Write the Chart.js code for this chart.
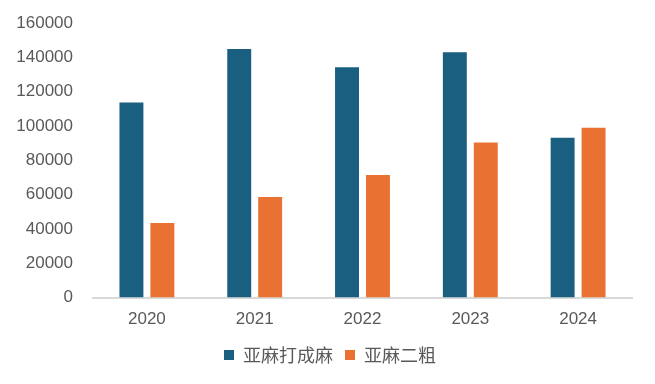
<!DOCTYPE html>
<html>
<head>
<meta charset="utf-8">
<script src="https://cdn.jsdelivr.net/npm/chart.js@4.4.1/dist/chart.umd.min.js"></script>
<style>
  html, body { margin: 0; padding: 0; background: #fff; }
  #wrap { width: 655px; height: 384px; }
</style>
</head>
<body>
<div id="wrap"><canvas id="chart" width="655" height="384"></canvas></div>
<script>
// 数据
const years = ["2020", "2021", "2022", "2023", "2024"];
const daChengMa = [113700, 144800, 134200, 143000, 93200];   // 亚麻打成麻
const erCu = [43400, 58600, 71500, 90300, 99000];            // 亚麻二粗
const yTicks = [0, 20000, 40000, 60000, 80000, 100000, 120000, 140000, 160000];

const fontFamily = "'Liberation Sans', 'Noto Sans CJK SC', sans-serif";

// 图例整体右移一点，与原图对齐
const shiftLegend = {
    id: 'shiftLegend',
    afterLayout(chart) {
        if (chart.legend) {
            chart.legend.left += 10;
            chart.legend.right += 10;
        }
    }
};

new Chart(document.getElementById("chart"), {
    type: 'bar',
    data: {
        labels: years,
        datasets: [{
            label: '亚麻打成麻',
            data: daChengMa,
            backgroundColor: '#1a5f80'
        }, {
            label: '亚麻二粗',
            data: erCu,
            backgroundColor: '#e97132'
        }]
    },
    options: {
        responsive: false,
        animation: false,
        layout: { padding: { top: 23, left: 8, right: 23, bottom: 10 } },
        datasets: {
            bar: { categoryPercentage: 0.574, barPercentage: 0.774 }
        },
        plugins: {
            legend: {
                position: 'bottom',
                labels: {
                    boxWidth: 10,
                    boxHeight: 10,
                    color: '#595959',
                    padding: 12,
                    font: { family: "'Noto Sans CJK SC', sans-serif", size: 18 }
                }
            },
            tooltip: { enabled: false }
        },
        scales: {
            x: {
                grid: { display: false },
                border: { color: '#d9d9d9', width: 2 },
                ticks: { color: '#595959', font: { family: fontFamily, size: 17 }, padding: 4 }
            },
            y: {
                min: 0,
                max: 160000,
                afterBuildTicks: scale => { scale.ticks = yTicks.map(v => ({ value: v })); },
                afterFit: scale => { scale.width = 85; },
                grid: { display: false },
                border: { display: false },
                ticks: {
                    color: '#595959',
                    font: { family: fontFamily, size: 17 },
                    padding: 12,
                    callback: v => String(v)
                }
            }
        }
    },
    plugins: [shiftLegend]
});
</script>
</body>
</html>
